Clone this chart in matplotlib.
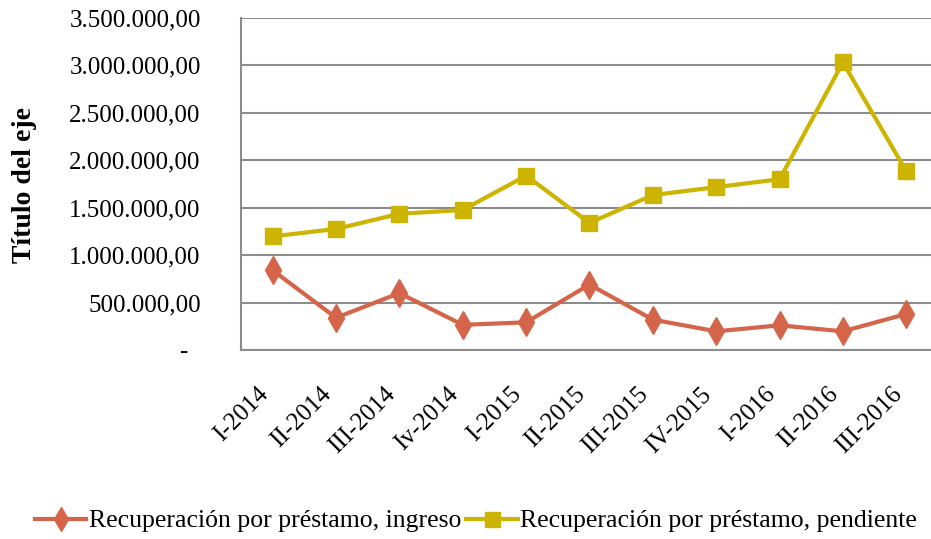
import matplotlib
matplotlib.use('Agg')
import matplotlib.pyplot as plt
import matplotlib.ticker as ticker
import numpy as np

# Data
periods = ['I-2014', 'II-2014', 'III-2014', 'Iv-2014', 'I-2015', 'II-2015',
           'III-2015', 'IV-2015', 'I-2016', 'II-2016', 'III-2016']
ingreso = [840000, 340000, 600000, 265000, 292000, 690000,
           320000, 197000, 260000, 197000, 380000]
pendiente = [1198000, 1276000, 1436000, 1476000, 1838000, 1340000,
             1633000, 1717000, 1800000, 3032000, 1883000]
yTicks = [0, 500000, 1000000, 1500000, 2000000, 2500000, 3000000, 3500000]
legendLabels = ['Recuperación por préstamo, ingreso',
                'Recuperación por préstamo, pendiente']

# Common plot values
redColor = '#D5654A'
yellowColor = '#CDB400'
gridColor = '#8C8C8C'
tickFont = 'Liberation Serif'
legendFont = 'Liberation Serif'

fig = plt.figure(figsize=(9.31, 5.39), dpi=100)
ax = fig.add_axes([241 / 931, 1 - 350 / 539, 697 / 931, 332 / 539])

x = np.arange(len(periods))
ax.plot(x, ingreso, color=redColor, lw=3, marker='d', markersize=14,
        label=legendLabels[0], zorder=3)
ax.plot(x, pendiente, color=yellowColor, lw=3, marker='s', markersize=12,
        label=legendLabels[1], zorder=3)

ax.set_xlim(-0.5, len(periods) - 0.5)
ax.set_ylim(0, 3500000)
ax.set_xticks(x)
ax.set_xticklabels(periods, rotation=45, ha='right', va='top',
                   fontsize=18, family=tickFont)
ax.set_yticks(yTicks)


def fmt(v, pos):
    if v == 0:
        return '-  '
    s = '{:,.2f}'.format(v)
    return s.replace(',', 'X').replace('.', ',').replace('X', '.')


ax.yaxis.set_major_formatter(ticker.FuncFormatter(fmt))
for lbl in ax.get_yticklabels():
    lbl.set_family(tickFont)
    lbl.set_fontsize(18)
ax.tick_params(axis='y', length=0, pad=29)
ax.tick_params(axis='x', length=0, pad=24)

ax.grid(axis='y', color=gridColor, lw=1.5)
ax.set_axisbelow(True)
for side in ['top', 'right']:
    ax.spines[side].set_visible(False)
for side in ['left', 'bottom']:
    ax.spines[side].set_color(gridColor)
    ax.spines[side].set_linewidth(1.5)

fig.text(25 / 931, 1 - 185 / 539, 'Título del eje', rotation=90,
         ha='center', va='center', fontsize=20, fontweight='bold', family=tickFont)

fig.legend(loc='center', bbox_to_anchor=(476 / 931, 1 - 521 / 539), ncol=2,
           frameon=False, prop={'family': legendFont, 'size': 18.5},
           handlelength=2.0, handletextpad=0.1, columnspacing=0.2, borderpad=0,
           markerscale=0.9)

fig.savefig('out.png', dpi=100)
